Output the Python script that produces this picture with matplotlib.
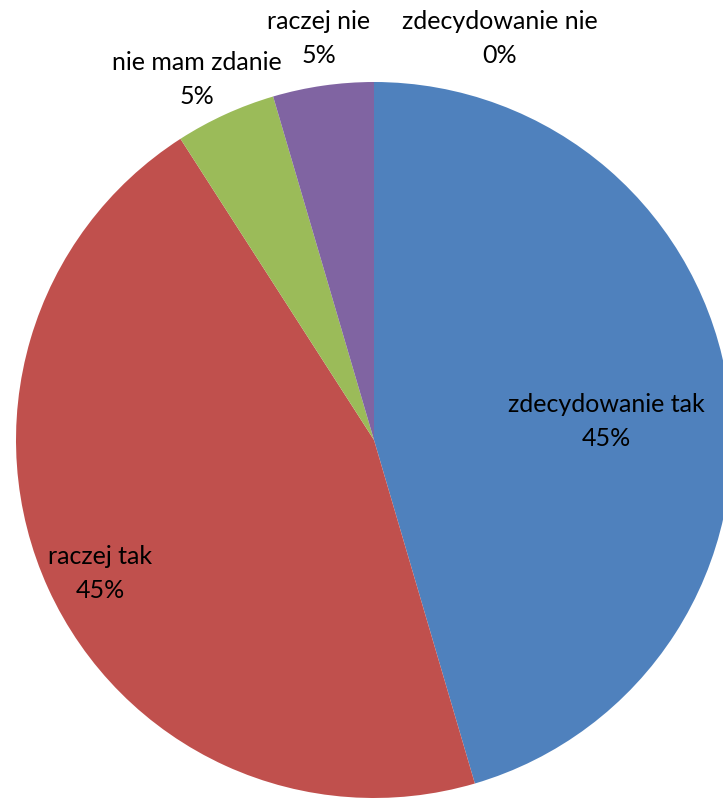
import matplotlib
matplotlib.use("Agg")
import matplotlib.pyplot as plt

categories = ["zdecydowanie tak", "raczej tak", "nie mam zdanie", "raczej nie", "zdecydowanie nie"]
values = [10, 10, 1, 1, 0]
colors = ["#4F81BD", "#C0504D", "#9BBB59", "#8064A2", "#4BACC6"]

# label positions in pie units (centre 0,0, radius 1)
label_pos = [(0.648, 0.052), (-0.765, -0.373), (-0.494, 1.007), (-0.154, 1.121), (0.352, 1.121)]

W, H = 723, 798
cx, cy, r = 374, 440, 358

fig = plt.figure(figsize=(W / 100, H / 100), dpi=100)
ax = fig.add_axes([(cx - r) / W, (H - cy - r) / H, 2 * r / W, 2 * r / H])

wedges, _ = ax.pie(values, colors=colors, startangle=90, counterclock=False,
                   radius=1, wedgeprops=dict(linewidth=0))
for w in wedges:
    w.set_clip_on(False)

total = sum(values)
for cat, v, (x, y) in zip(categories, values, label_pos):
    pct = round(100 * v / total)
    ax.text(x, y, f"{cat}\n{pct}%", ha="center", va="center", fontsize=18,
            family=["Lato", "DejaVu Sans"], linespacing=1.6, clip_on=False)

ax.set_xlim(-1, 1)
ax.set_ylim(-1, 1)
ax.set_aspect("equal")
ax.axis("off")

fig.savefig("out.png", dpi=100)
